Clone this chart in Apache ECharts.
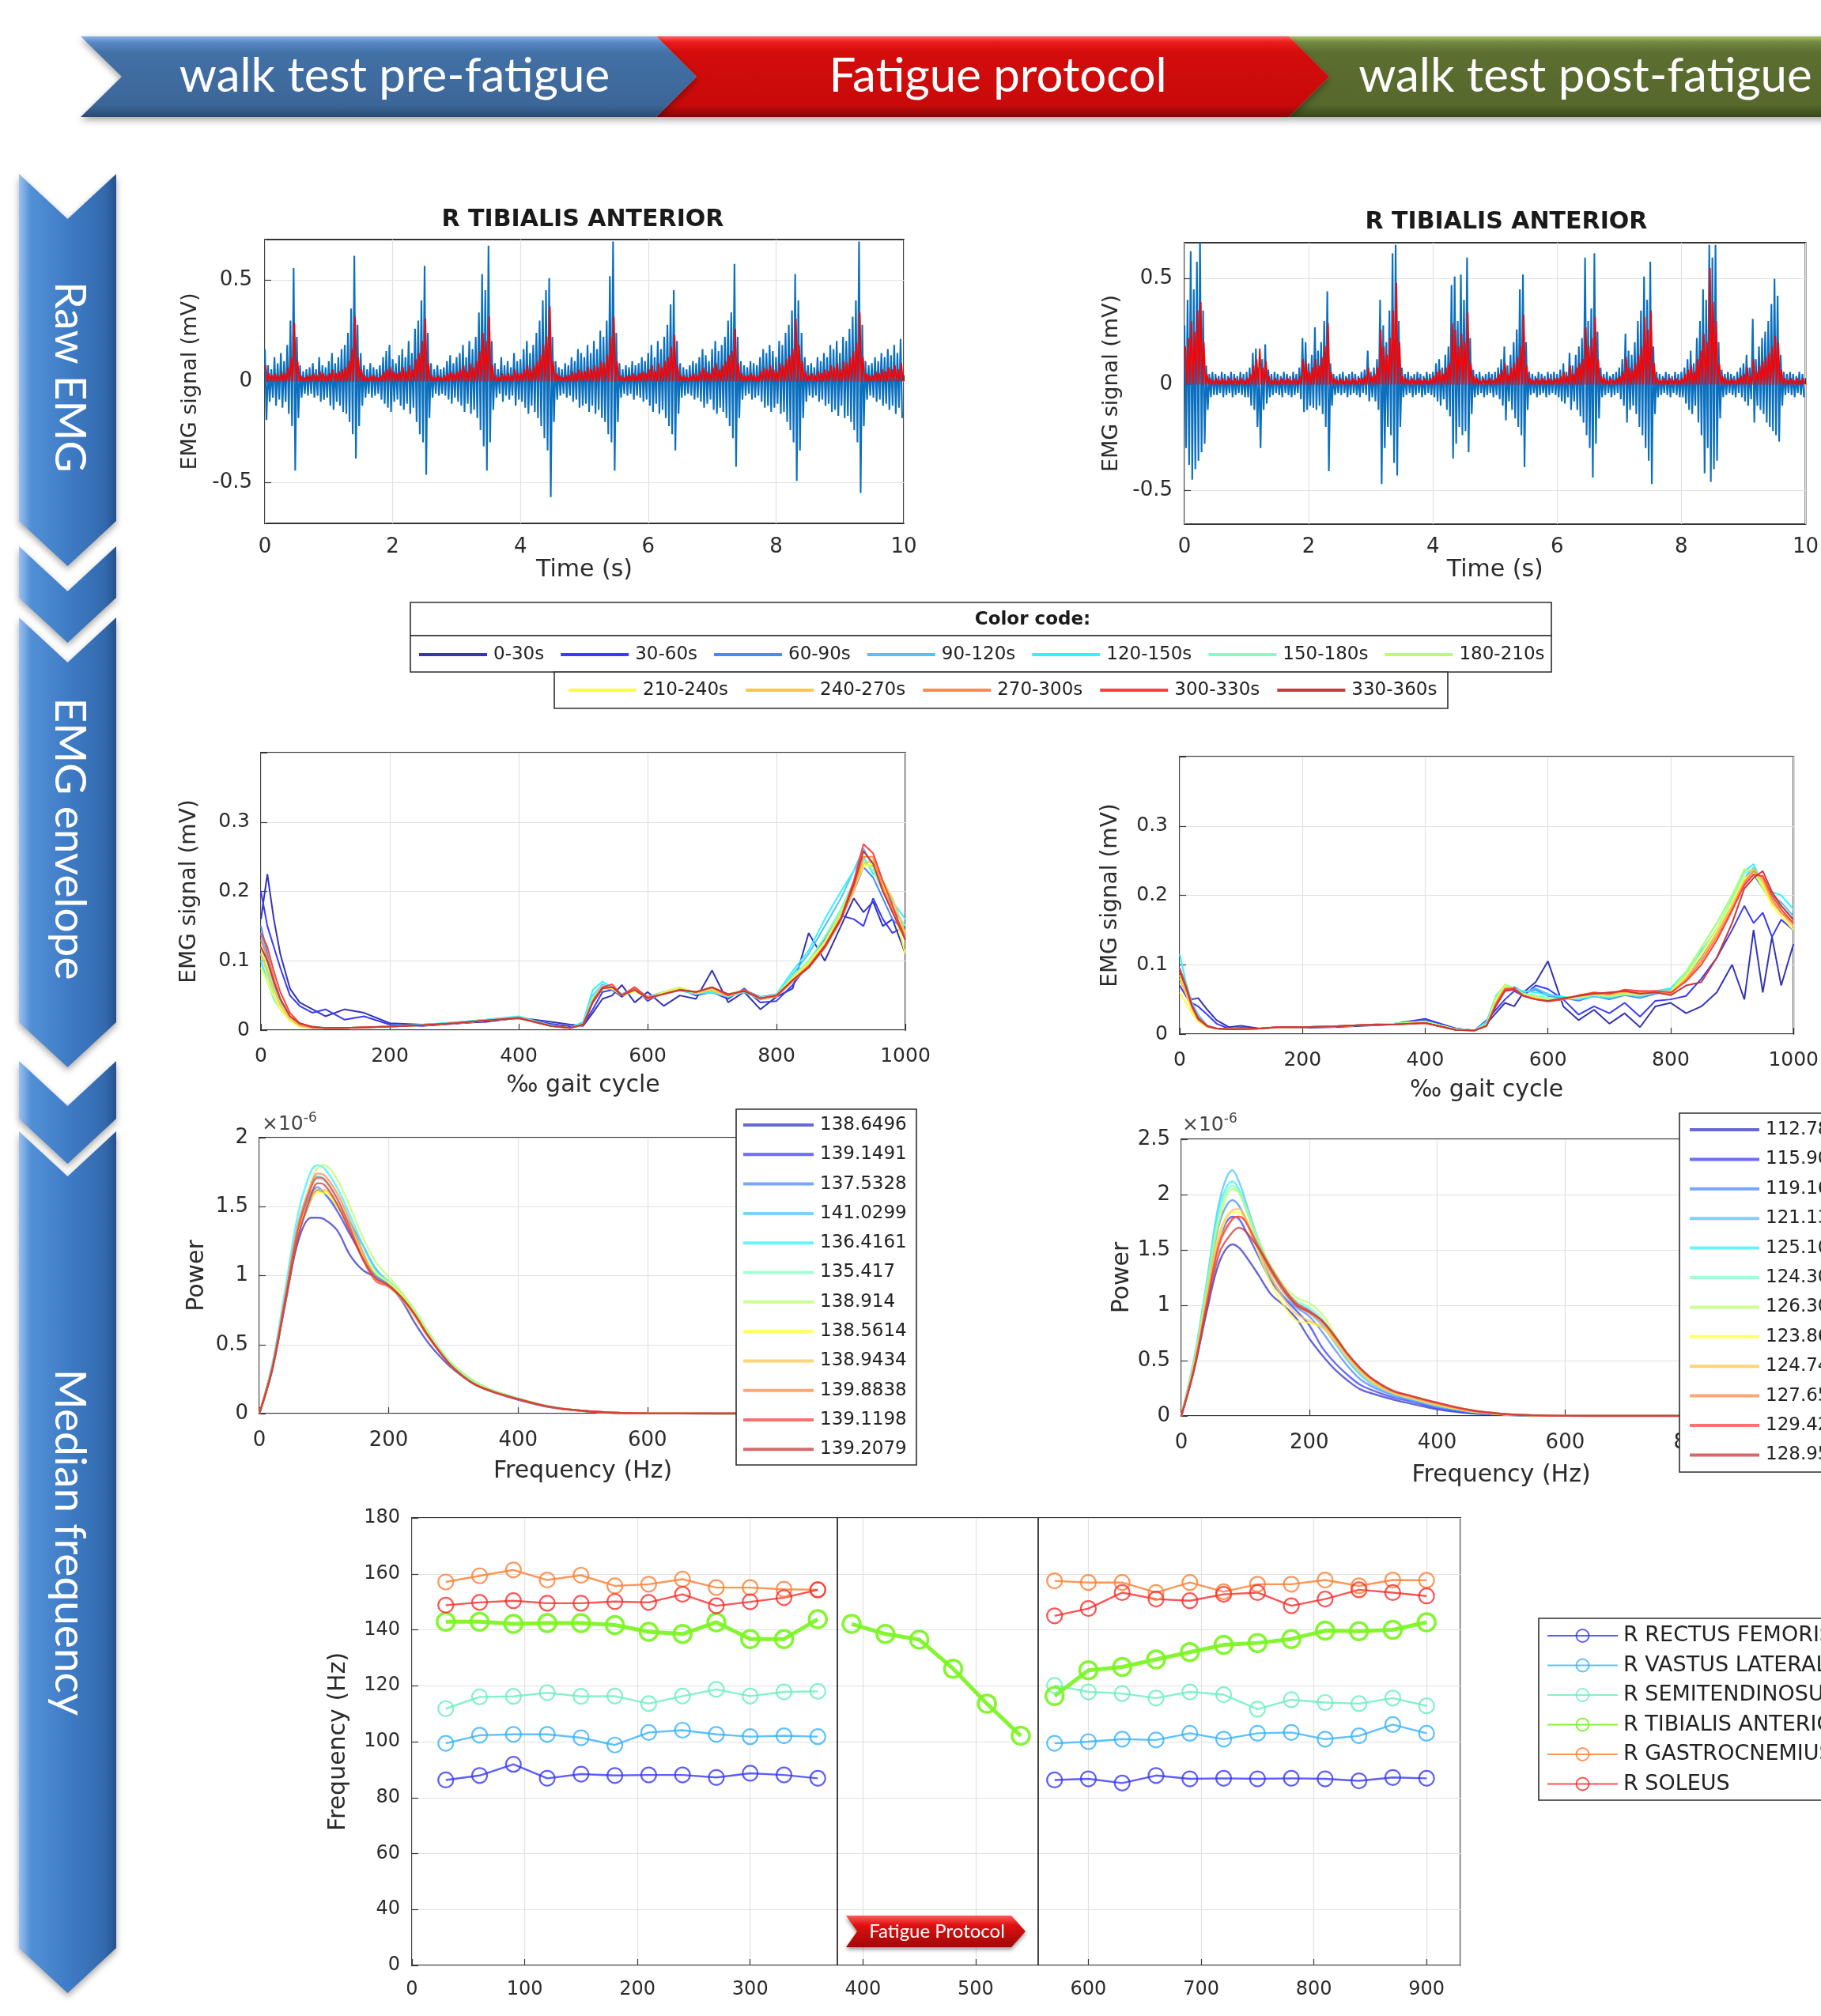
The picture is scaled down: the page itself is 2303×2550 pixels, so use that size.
<!DOCTYPE html>
<html>
<head>
<meta charset="utf-8">
<title>EMG fatigue figure</title>
<script src="https://cdn.jsdelivr.net/npm/echarts@6.0.0/dist/echarts.min.js"></script>
<style>
html,body{margin:0;padding:0;background:#ffffff;}
#chart{width:2303px;height:2550px;}
</style>
</head>
<body>
<div id="chart"></div>
<script>
// ===================== DATA =====================
const phaseLabels = ['walk test pre-fatigue', 'Fatigue protocol', 'walk test post-fatigue'];
const sectionLabels = ['Raw EMG', 'EMG envelope', 'Median frequency'];
const muscleTitle = 'R TIBIALIS ANTERIOR';
const colorCodeTitle = 'Color code:';
const fatigueTag = 'Fatigue Protocol';

// Raw EMG, sampled every rawStep seconds (values in 0.01 mV)
const rawStep = 0.05;
const rawPreUpper = [16,8,6,12,9,14,10,18,30,56, 22,8,5,6,7,9,6,12,8,7, 10,14,9,12,16,18,24,36,62,28, 14,8,6,9,7,6,8,12,15,18,
  11,9,13,16,12,20,14,26,30,40, 57,24,9,6,8,6,7,10,13,9, 12,14,18,12,20,16,22,34,53,45, 67,20,9,6,12,8,10,7,14,10,
  11,16,20,14,18,24,30,40,45,51, 22,10,7,6,9,8,12,10,16,14, 12,18,14,20,16,25,22,30,52,69, 24,9,6,8,7,10,8,9,12,10,
  14,18,12,20,16,22,28,38,45,20, 9,7,6,8,10,9,12,16,13,10, 16,20,15,18,22,30,34,58,22,10, 8,7,10,9,8,12,16,14,18,15,
  12,20,18,24,28,35,53,40,24,12, 8,9,7,12,10,14,12,18,16,20, 14,22,20,26,32,40,69,28,10,8, 9,12,10,14,12,16,13,18,14,21];
const rawPreLower = [-19,-10,-8,-12,-9,-13,-10,-16,-22,-44, -18,-8,-6,-7,-6,-8,-7,-10,-9,-8, -12,-14,-10,-12,-15,-16,-20,-26,-38,-22, -12,-8,-6,-8,-7,-6,-9,-11,-13,-15,
  -10,-9,-12,-14,-11,-16,-13,-20,-26,-30, -46,-18,-8,-6,-7,-6,-7,-9,-11,-8, -10,-12,-15,-11,-16,-14,-18,-24,-32,-44, -30,-14,-8,-6,-10,-7,-9,-7,-12,-9,
  -10,-13,-16,-12,-15,-18,-22,-28,-34,-57, -20,-9,-7,-6,-8,-7,-10,-9,-13,-12, -11,-15,-12,-16,-14,-18,-20,-26,-30,-44, -20,-8,-6,-7,-6,-9,-7,-8,-10,-9,
  -12,-15,-11,-16,-14,-18,-22,-26,-34,-16, -8,-7,-6,-7,-9,-8,-10,-13,-11,-9, -14,-16,-13,-15,-18,-22,-28,-42,-18,-9, -7,-6,-9,-8,-7,-10,-13,-12,-15,-13,
  -11,-16,-15,-20,-24,-30,-49,-34,-18,-10, -7,-8,-7,-10,-9,-12,-11,-15,-14,-17, -12,-18,-17,-20,-24,-30,-55,-22,-9,-7, -8,-10,-9,-12,-11,-14,-12,-16,-13,-18];
const rawPreRect = [8,4,3,4,3,5,4,7,12,29, 10,3,2,3,3,4,3,5,4,3, 4,6,4,5,6,7,10,16,32,12, 6,3,2,3,3,2,3,5,6,7,
  5,4,5,7,5,8,6,11,14,20, 31,9,3,2,3,2,3,4,5,4, 5,6,8,5,9,7,10,15,24,20, 32,8,3,2,4,3,4,3,6,4,
  4,6,8,6,8,10,13,18,22,37, 10,4,3,2,3,3,5,4,6,5, 5,7,6,8,7,10,9,13,22,32, 10,3,2,3,3,4,3,4,5,4,
  6,8,5,9,7,10,12,17,23,8, 3,3,2,3,4,3,5,7,5,4, 7,9,6,8,10,13,15,26,9,4, 3,3,4,3,3,5,7,6,8,6,
  5,9,8,11,13,16,31,18,10,5, 3,4,3,5,4,6,5,8,7,9, 6,10,9,12,15,19,34,12,4,3, 3,5,4,6,5,7,6,8,6,9];

const rawPostUpper = [28,40,63,45,58,70,35,9,5,6, 5,4,6,5,4,6,5,4,6,5, 6,8,15,17,8,12,19,7,5,6, 5,4,6,5,4,6,5,8,22,20,
  10,14,27,16,20,30,44,10,5,4, 5,6,4,5,6,5,4,6,7,16, 6,8,12,40,28,20,35,62,66,30, 8,5,6,4,5,6,5,4,6,5,
  6,10,12,8,14,18,47,51,30,52, 40,60,22,7,5,6,4,5,6,5, 6,8,12,18,9,14,20,26,45,52, 20,6,5,4,6,5,4,6,5,6,
  5,7,10,6,15,9,14,18,22,60, 30,36,62,25,8,5,6,4,5,6, 8,12,24,16,14,20,30,35,51,40, 58,18,6,5,4,6,5,4,6,5,
  6,8,12,16,10,22,30,45,40,66, 60,66,20,7,5,6,5,4,6,8, 10,14,8,31,12,18,22,25,30,38, 50,42,14,6,5,6,5,4,6,5];
const rawPostLower = [-30,-38,-45,-40,-36,-32,-28,-12,-6,-5, -5,-4,-6,-5,-4,-6,-5,-4,-5,-6, -6,-10,-12,-20,-30,-12,-9,-6,-5,-4, -5,-6,-4,-5,-6,-5,-4,-7,-13,-12,
  -10,-11,-12,-10,-14,-20,-41,-10,-5,-4, -5,-4,-6,-5,-4,-5,-6,-4,-5,-8, -6,-8,-12,-47,-30,-20,-24,-37,-43,-20, -6,-5,-4,-6,-5,-4,-6,-5,-4,-5,
  -6,-8,-10,-7,-12,-15,-35,-28,-20,-24, -22,-32,-14,-6,-5,-4,-6,-5,-4,-6, -5,-7,-10,-17,-8,-12,-16,-20,-24,-39, -12,-5,-4,-6,-5,-4,-6,-5,-4,-5,
  -6,-8,-9,-6,-12,-8,-12,-15,-18,-24, -30,-44,-28,-16,-6,-5,-4,-6,-5,-4, -7,-10,-18,-12,-10,-14,-20,-24,-30,-36, -47,-14,-6,-5,-4,-5,-6,-4,-5,-6,
  -6,-9,-12,-14,-10,-18,-24,-42,-30,-46, -40,-36,-16,-6,-5,-4,-5,-6,-4,-6, -8,-10,-7,-18,-10,-12,-14,-18,-20,-22, -24,-27,-10,-5,-4,-5,-6,-4,-5,-6];
const rawPostRect = [18,22,30,25,35,39,20,5,3,2, 3,2,3,2,3,2,3,2,3,2, 3,5,9,12,17,8,11,4,2,3, 2,3,2,3,2,3,2,4,12,10,
  6,8,12,9,13,18,29,6,3,2, 3,2,3,2,3,2,3,3,4,8, 4,5,8,26,18,14,22,35,48,20, 4,3,2,3,2,3,2,3,2,3,
  4,6,7,5,8,10,29,26,18,24, 20,34,10,4,3,2,3,2,3,2, 3,5,7,10,5,8,10,13,18,33, 9,3,2,3,2,3,2,3,2,3,
  3,4,6,4,9,5,8,10,12,27, 18,22,32,12,4,3,2,3,2,3, 4,6,13,8,7,10,14,18,32,26, 35,10,3,2,3,2,3,2,3,2,
  3,5,7,9,6,12,16,24,20,55, 39,30,10,4,3,2,3,2,3,4, 5,8,4,12,6,9,11,13,15,18, 23,20,7,3,2,3,2,3,2,3];

// Time windows (color code)
const windowNames = ['0-30s','30-60s','60-90s','90-120s','120-150s','150-180s','180-210s','210-240s','240-270s','270-300s','300-330s','330-360s'];

// EMG envelope (x in ‰ gait cycle, values in 0.001 mV)
const envX = [0,10,20,30,45,60,80,100,130,160,200,250,300,350,400,450,480,500,515,530,545,560,580,600,625,650,675,700,725,750,775,800,825,850,875,900,920,935,950,965,980,1000];
const envPre = [
  [160,225,160,110,60,40,30,20,30,25,10,8,10,12,18,12,8,6,25,45,50,65,40,55,35,50,45,86,40,55,30,48,60,140,100,150,190,170,185,150,160,110],
  [200,150,120,90,50,35,25,30,15,20,8,6,9,13,17,9,5,8,30,55,58,48,62,42,55,60,50,55,45,60,40,42,65,95,130,165,160,150,190,160,140,150],
  [150,110,75,45,20,8,4,3,3,4,5,7,10,14,18,6,3,10,45,62,58,52,60,48,55,60,52,56,50,58,48,52,75,100,130,170,200,235,220,190,160,140],
  [140,100,65,40,18,8,4,3,3,4,5,7,11,15,19,6,3,9,50,66,60,50,57,47,52,57,52,54,48,56,44,50,80,110,150,190,230,262,235,205,175,150],
  [100,70,45,30,14,6,3,3,3,4,6,8,11,15,20,7,3,12,58,70,62,52,58,46,53,58,53,55,48,55,45,52,85,115,160,200,230,250,225,215,185,160],
  [110,80,50,30,15,6,3,3,3,4,5,7,10,14,18,6,3,9,48,64,60,50,58,47,55,60,52,58,50,56,47,51,78,100,135,175,215,245,230,200,180,150],
  [120,90,60,38,18,7,3,3,3,4,5,7,10,14,18,6,3,8,44,62,60,50,56,46,55,62,54,60,52,58,46,50,76,98,128,170,212,240,235,205,170,140],
  [90,70,48,30,14,5,3,3,3,4,5,7,10,14,17,6,3,8,42,60,60,50,57,46,54,60,55,58,50,57,46,50,74,96,125,165,205,235,240,210,180,110],
  [110,85,58,36,16,6,3,3,3,4,5,7,10,14,18,6,3,8,42,60,62,50,58,45,53,59,54,57,49,57,45,50,72,94,122,160,200,240,245,215,190,140],
  [130,105,75,45,20,8,4,3,3,4,5,7,10,14,18,6,3,8,40,60,62,50,60,45,52,58,55,61,50,57,45,48,70,90,118,158,205,250,250,205,175,135],
  [140,120,85,55,25,10,4,3,3,4,5,7,10,14,18,6,3,8,42,62,66,50,62,47,52,58,55,62,50,58,46,50,72,92,122,162,215,268,255,215,180,130],
  [120,100,70,45,20,10,5,3,3,4,5,7,10,14,17,6,3,8,40,60,62,50,58,46,52,58,55,62,52,56,46,50,72,90,120,160,210,258,240,200,170,130]
];
const envPost = [
  [80,60,50,52,35,20,10,12,8,10,9,10,12,14,20,8,5,15,30,45,40,60,75,105,40,20,35,15,30,10,40,45,30,40,60,100,50,150,60,140,70,130],
  [70,55,45,40,28,15,8,9,8,10,10,11,13,15,22,8,5,20,35,50,62,55,70,65,50,28,40,30,45,25,48,50,55,80,110,150,185,160,175,140,165,150],
  [85,60,40,25,12,8,7,7,8,10,10,11,13,15,19,7,5,14,45,62,68,60,64,55,52,48,55,50,56,52,58,62,80,110,145,185,215,230,210,190,175,160],
  [95,70,45,28,12,8,7,7,8,10,10,11,13,15,18,7,5,16,50,68,64,60,66,58,52,50,54,52,58,54,60,64,85,120,150,185,225,240,220,200,190,170],
  [115,75,45,25,12,8,7,7,8,10,10,11,13,15,18,7,5,18,55,70,66,62,60,56,54,50,56,52,58,55,62,66,90,125,160,200,235,245,215,205,200,180],
  [90,65,40,22,11,8,7,7,8,10,10,11,13,15,18,7,5,14,52,70,64,58,56,52,50,52,56,54,57,56,60,62,88,118,152,195,232,238,215,195,185,165],
  [85,60,38,22,11,8,7,7,8,10,10,11,13,15,18,7,5,14,52,72,66,58,54,50,50,53,57,55,58,56,60,62,90,125,160,200,238,235,210,190,180,160],
  [60,45,30,18,10,8,7,7,8,10,10,11,13,14,16,6,5,12,48,68,64,56,52,48,50,54,58,56,62,60,62,60,84,115,150,190,225,232,215,185,170,150],
  [80,58,36,20,11,8,7,7,8,10,10,11,13,14,16,6,5,12,45,66,64,56,52,48,50,54,58,56,60,58,62,58,80,108,145,185,220,238,220,190,175,155],
  [90,65,40,22,11,8,7,7,8,10,10,11,13,14,16,6,5,12,44,66,66,56,50,48,50,56,58,58,62,60,60,58,78,105,140,180,218,235,225,195,175,160],
  [95,70,42,24,12,8,7,7,8,10,10,11,13,14,16,6,5,12,42,64,66,55,50,47,50,56,60,58,64,62,62,60,76,100,135,178,215,230,228,200,180,160],
  [90,68,40,22,11,8,7,7,8,10,10,11,13,14,16,6,5,12,40,62,64,55,50,48,52,55,58,60,62,58,60,56,70,75,110,160,210,225,235,205,185,165]
];

// Power spectra (x in Hz, values in 1e-6)
const specX = [0,20,40,60,80,90,100,120,140,160,180,200,220,240,260,280,300,330,360,400,450,500,550,600,700,800,1000];
const powPre = [
  [0,.32,.80,1.25,1.42,1.42,1.41,1.33,1.15,1.04,.99,.93,.82,.66,.52,.41,.32,.22,.16,.10,.045,.018,.006,.002,0,0,0],
  [0,.33,.82,1.30,1.55,1.62,1.60,1.47,1.30,1.14,1.00,.94,.85,.72,.57,.44,.33,.22,.16,.105,.048,.02,.006,.002,0,0,0],
  [0,.34,.84,1.34,1.60,1.64,1.60,1.50,1.38,1.22,1.05,.95,.86,.73,.58,.44,.33,.22,.16,.105,.048,.02,.006,.002,0,0,0],
  [0,.35,.86,1.38,1.66,1.72,1.70,1.56,1.36,1.15,1.00,.94,.85,.73,.58,.44,.33,.23,.17,.11,.05,.02,.006,.002,0,0,0],
  [0,.36,.90,1.45,1.76,1.80,1.78,1.64,1.44,1.22,1.04,.96,.87,.75,.60,.46,.35,.24,.17,.11,.05,.02,.006,.002,0,0,0],
  [0,.34,.85,1.36,1.64,1.70,1.69,1.56,1.38,1.17,1.02,.95,.86,.74,.59,.45,.34,.23,.17,.11,.05,.02,.006,.002,0,0,0],
  [0,.33,.84,1.36,1.68,1.78,1.80,1.70,1.50,1.28,1.10,.99,.88,.75,.60,.46,.35,.24,.17,.11,.05,.02,.006,.002,0,0,0],
  [0,.33,.82,1.30,1.55,1.60,1.60,1.50,1.34,1.16,1.02,.95,.86,.73,.58,.44,.33,.22,.16,.105,.048,.02,.006,.002,0,0,0],
  [0,.33,.82,1.31,1.57,1.62,1.62,1.52,1.34,1.14,.98,.92,.83,.70,.56,.44,.33,.22,.16,.105,.048,.02,.006,.002,0,0,0],
  [0,.33,.84,1.36,1.66,1.74,1.73,1.60,1.40,1.17,.98,.93,.84,.72,.57,.44,.33,.22,.16,.105,.048,.02,.006,.002,0,0,0],
  [0,.33,.83,1.34,1.64,1.71,1.70,1.56,1.35,1.12,.96,.92,.84,.72,.57,.44,.33,.22,.16,.105,.048,.02,.006,.002,0,0,0],
  [0,.32,.80,1.28,1.58,1.67,1.66,1.52,1.32,1.12,.98,.93,.84,.72,.57,.44,.33,.22,.16,.105,.048,.02,.006,.002,0,0,0]
];
const powPost = [
  [0,.42,.95,1.40,1.55,1.52,1.45,1.28,1.10,1.00,.88,.70,.55,.42,.32,.24,.20,.15,.11,.06,.025,.01,.003,.001,0,0,0],
  [0,.45,1.05,1.60,1.80,1.78,1.68,1.45,1.22,1.07,.95,.82,.62,.48,.37,.28,.23,.17,.13,.07,.03,.012,.004,.001,0,0,0],
  [0,.48,1.12,1.75,1.95,1.90,1.78,1.50,1.25,1.08,.98,.90,.76,.60,.45,.33,.26,.19,.14,.08,.035,.013,.004,.001,0,0,0],
  [0,.52,1.22,1.95,2.22,2.12,1.95,1.60,1.32,1.12,1.00,.93,.82,.66,.50,.37,.28,.20,.15,.09,.04,.015,.005,.001,0,0,0],
  [0,.50,1.20,1.90,2.12,2.05,1.90,1.58,1.32,1.14,1.02,.96,.86,.70,.53,.39,.30,.21,.16,.10,.045,.016,.005,.001,0,0,0],
  [0,.50,1.18,1.85,2.08,2.02,1.88,1.56,1.30,1.14,1.04,.98,.88,.72,.54,.40,.30,.21,.16,.10,.045,.016,.005,.001,0,0,0],
  [0,.48,1.14,1.78,2.05,2.02,1.90,1.60,1.36,1.18,1.07,1.02,.92,.74,.56,.41,.31,.22,.17,.11,.048,.017,.005,.001,0,0,0],
  [0,.45,1.06,1.62,1.84,1.84,1.76,1.48,1.20,1.00,.86,.84,.80,.68,.53,.40,.30,.21,.16,.10,.045,.016,.005,.001,0,0,0],
  [0,.46,1.08,1.66,1.86,1.87,1.80,1.52,1.26,1.06,.92,.86,.80,.68,.53,.40,.30,.21,.16,.10,.045,.016,.005,.001,0,0,0],
  [0,.44,1.04,1.58,1.78,1.80,1.76,1.52,1.30,1.12,1.00,.93,.84,.70,.55,.42,.32,.22,.17,.11,.05,.018,.005,.001,0,0,0],
  [0,.43,1.02,1.56,1.78,1.80,1.76,1.54,1.34,1.16,1.02,.95,.86,.72,.56,.43,.33,.23,.18,.12,.055,.02,.006,.001,0,0,0],
  [0,.42,.98,1.48,1.66,1.70,1.67,1.52,1.32,1.14,1.00,.94,.86,.72,.56,.43,.33,.23,.18,.12,.055,.02,.006,.001,0,0,0]
];
const medianPreLabels = ['138.6496','139.1491','137.5328','141.0299','136.4161','135.417','138.914','138.5614','138.9434','139.8838','139.1198','139.2079'];
const medianPostLabels = ['112.78','115.90','119.16','121.13','125.10','124.30','126.30','123.86','124.74','127.65','129.42','128.95'];

// Median frequency over time (x in s, values in Hz)
const muscleNames = ['R RECTUS FEMORIS','R VASTUS LATERALIS','R SEMITENDINOSUS','R TIBIALIS ANTERIOR','R GASTROCNEMIUS','R SOLEUS'];
const medPreX = [30,60,90,120,150,180,210,240,270,300,330,360];
const medFatX = [390,420,450,480,510,540];
const medPostX = [570,600,630,660,690,720,750,780,810,840,870,900];
const rectusPre = [86.3,87.9,91.9,86.9,88.4,87.9,88.1,88.1,87.2,88.7,88.1,86.9];
const rectusPost = [86.3,86.7,85.2,87.9,86.7,86.9,86.7,86.9,86.7,86.0,87.2,86.9];
const vastusPre = [99.4,102.3,102.6,102.6,101.4,98.8,103.3,104.1,102.6,101.8,102.1,101.8];
const vastusPost = [99.4,100.0,100.9,100.6,103.0,100.9,103.0,103.3,100.9,102.1,106.1,103.0];
const semiPre = [111.8,116.0,116.2,117.5,116.2,116.3,113.6,116.3,118.7,116.3,117.8,118.0];
const semiPost = [120.1,117.8,117.2,115.6,117.8,116.8,111.6,115.0,114.0,113.6,115.6,112.8];
const tibPre = [142.9,142.9,142.1,142.4,142.4,141.7,139.3,138.5,142.7,136.7,136.7,143.8];
const tibFat = [142.1,138.5,136.5,126.1,113.6,102.1];
const tibPost = [116.3,125.5,126.7,129.4,132.0,134.6,135.3,136.7,139.7,139.5,140.0,142.7];
const gastPre = [157.1,159.3,161.4,157.8,159.5,155.7,156.3,158.1,155.1,155.1,154.5,154.3];
const gastPost = [157.5,156.9,156.9,153.3,156.9,153.6,156.3,156.3,157.8,155.7,157.8,157.7];
const solPre = [148.8,149.8,150.4,149.5,149.5,150.1,149.8,152.7,148.6,150.0,151.5,154.3];
const solPost = [145.0,147.6,153.3,151.0,150.4,152.7,153.3,148.6,151.0,154.3,153.3,152.1];
const phaseBounds = [377, 555];
const medYTickValues = [20,40,60,80,100,120,140,160,180];
const medYTickLabels = ['0','40','60','80','100','120','140','160','180'];
const rawYTicks = [-0.5, 0, 0.5];

// ===================== STYLE =====================
const windowColors = ['#3434b4','#3a3aff','#4a8aff','#52c2ff','#33f2ff','#80ffc6','#baff6a','#ffff3a','#ffc64a','#ff8a4a','#ff4040','#c43a3a'];
const specColors = ['rgba(52,52,200,0.75)','rgba(58,58,255,0.75)','rgba(74,138,255,0.75)','rgba(82,194,255,0.75)','rgba(51,242,255,0.75)','rgba(128,255,198,0.75)',
  'rgba(186,255,106,0.75)','rgba(255,255,58,0.75)','rgba(255,198,74,0.75)','rgba(255,138,74,0.75)','rgba(255,64,64,0.75)','rgba(196,58,58,0.75)'];
const muscleColors = ['rgba(52,52,255,0.8)','rgba(50,178,255,0.8)','rgba(110,240,190,0.85)','rgba(122,245,32,0.92)','rgba(255,130,56,0.85)','rgba(255,40,40,0.8)'];
const FONT = 'DejaVu Sans';
const INK = '#2b2b2b';

// ===================== BUILD =====================
function zigzag(up, lo) {
  const out = [];
  for (let i = 0; i < up.length; i++) {
    out.push([i * rawStep, up[i] * 0.01]);
    out.push([i * rawStep + rawStep / 2, lo[i] * 0.01]);
  }
  return out;
}
// rectified signal: oscillates between its envelope sample and zero
function rectified(vals) {
  const out = [];
  vals.forEach((v, i) => {
    out.push([i * rawStep + rawStep / 4, v * 0.01]);
    out.push([i * rawStep + rawStep * 3 / 4, 0]);
  });
  return out;
}
function pairs(xs, ys, k) { return xs.map((x, i) => [x, ys[i] * (k || 1)]); }
function gapJoin() {
  const out = [];
  for (let a = 0; a < arguments.length; a++) {
    if (a > 0) out.push([ (out[out.length - 1][0] + arguments[a][0][0]) / 2, '-' ]);
    arguments[a].forEach(p => out.push(p));
  }
  return out;
}

const plainFmt = v => String(Math.round(v * 1000) / 1000);
function valueAxis(o) {
  const ax = {
    type: 'value', gridIndex: o.grid, min: o.min, max: o.max,
    name: o.name || '', nameLocation: 'middle', nameGap: o.nameGap || 0,
    nameTextStyle: {fontFamily: FONT, fontSize: o.nameSize || 30, color: INK},
    axisLine: {show: false},
    axisTick: {show: true, inside: true, length: 8, lineStyle: {color: '#3a3a3a', width: 1.2}},
    axisLabel: {fontFamily: FONT, fontSize: o.labelSize || 26, color: INK, margin: o.margin || 14, formatter: o.formatter || plainFmt},
    splitLine: {show: true, lineStyle: {color: '#e1e1e1', width: 1.2}}
  };
  if (o.interval != null) ax.interval = o.interval;
  if (o.custom) { ax.axisLabel.customValues = o.custom; ax.axisTick.customValues = o.custom; }
  if (o.hideMax) ax.axisLabel.showMaxLabel = false;
  return ax;
}

const grids = [
  {left: 335, top: 303, width: 808, height: 359},
  {left: 1498, top: 307, width: 814, height: 356},
  {left: 330, top: 952, width: 815, height: 351},
  {left: 1492, top: 957, width: 815, height: 351},
  {left: 328, top: 1439, width: 818, height: 349},
  {left: 1494, top: 1441, width: 817, height: 350},
  {left: 521, top: 1920, width: 1326, height: 566}
].map(g => Object.assign({show: true, borderColor: '#333', borderWidth: 2, backgroundColor: 'transparent'}, g));

const envFmt = v => (v >= 0.39 ? '' : String(Math.round(v * 10) / 10));
const xAxes = [
  valueAxis({grid: 0, min: 0, max: 10, interval: 2, name: 'Time (s)', nameGap: 41, margin: 17}),
  valueAxis({grid: 1, min: 0, max: 10, interval: 2, name: 'Time (s)', nameGap: 39, margin: 16}),
  valueAxis({grid: 2, min: 0, max: 1000, interval: 200, name: '‰ gait cycle', nameGap: 55, margin: 21, labelSize: 25}),
  valueAxis({grid: 3, min: 0, max: 1000, interval: 200, name: '‰ gait cycle', nameGap: 56, margin: 21, labelSize: 25}),
  valueAxis({grid: 4, min: 0, max: 1000, interval: 200, hideMax: true, name: 'Frequency (Hz)', nameGap: 58, margin: 21}),
  valueAxis({grid: 5, min: 0, max: 1000, interval: 200, hideMax: true, name: 'Frequency (Hz)', nameGap: 60, margin: 21}),
  valueAxis({grid: 6, min: 0, max: 930, interval: 100, hideMax: true, margin: 19, labelSize: 24})
];
const yAxes = [
  valueAxis({grid: 0, min: -0.7, max: 0.7, custom: rawYTicks, name: 'EMG signal (mV)', nameGap: 81, nameSize: 27, margin: 16}),
  valueAxis({grid: 1, min: -0.66, max: 0.67, custom: rawYTicks, name: 'EMG signal (mV)', nameGap: 79, nameSize: 27, margin: 15}),
  valueAxis({grid: 2, min: 0, max: 0.4, interval: 0.1, formatter: envFmt, name: 'EMG signal (mV)', nameGap: 76, nameSize: 28, margin: 14, labelSize: 25}),
  valueAxis({grid: 3, min: 0, max: 0.4, interval: 0.1, formatter: envFmt, name: 'EMG signal (mV)', nameGap: 73, nameSize: 28, margin: 15, labelSize: 25}),
  valueAxis({grid: 4, min: 0, max: 2, interval: 0.5, name: 'Power', nameGap: 64, margin: 14}),
  valueAxis({grid: 5, min: 0, max: 2.5, interval: 0.5, name: 'Power', nameGap: 60, margin: 14}),
  valueAxis({grid: 6, min: 20, max: 180, interval: 20, name: 'Frequency (Hz)', nameGap: 78, margin: 15, labelSize: 24,
    formatter: v => { const k = medYTickValues.indexOf(v); return k >= 0 ? medYTickLabels[k] : String(v); }})
];

const series = [];
// Raw EMG
[[rawPreUpper, rawPreLower, rawPreRect, 0], [rawPostUpper, rawPostLower, rawPostRect, 1]].forEach(([u, l, r, gi]) => {
  series.push({type: 'line', name: 'raw' + gi, xAxisIndex: gi, yAxisIndex: gi, data: zigzag(u, l), symbol: 'none',
    lineStyle: {color: '#0a6fbe', width: 2.1}, itemStyle: {color: '#0a6fbe'}, silent: true, z: 2});
  series.push({type: 'line', name: 'rect' + gi, xAxisIndex: gi, yAxisIndex: gi, data: rectified(r), symbol: 'none',
    lineStyle: {color: '#ff0000', width: 1.8}, itemStyle: {color: '#ff0000'}, silent: true, z: 3});
});
// Envelopes
[[envPre, 2], [envPost, 3]].forEach(([curves, gi]) => {
  curves.forEach((c, k) => {
    series.push({type: 'line', name: windowNames[k], xAxisIndex: gi, yAxisIndex: gi, data: pairs(envX, c, 0.001),
      symbol: 'none', lineStyle: {color: windowColors[k], width: 2}, itemStyle: {color: windowColors[k]}, silent: true, z: 2});
  });
});
// Spectra
[[powPre, medianPreLabels, 4], [powPost, medianPostLabels, 5]].forEach(([curves, names, gi]) => {
  curves.forEach((c, k) => {
    series.push({type: 'line', name: names[k], xAxisIndex: gi, yAxisIndex: gi, data: pairs(specX, c), smooth: 0.35,
      symbol: 'none', lineStyle: {color: specColors[k], width: 2.4}, itemStyle: {color: specColors[k]}, silent: true, z: 2});
  });
});
// Median frequency
const medSets = [
  [rectusPre, rectusPost], [vastusPre, vastusPost], [semiPre, semiPost], [tibPre, tibFat, tibPost], [gastPre, gastPost], [solPre, solPost]
];
medSets.forEach((set, k) => {
  const isTib = set.length === 3;
  const parts = isTib ? [pairs(medPreX, set[0]), pairs(medFatX, set[1]), pairs(medPostX, set[2])]
                      : [pairs(medPreX, set[0]), pairs(medPostX, set[1])];
  const s = {type: 'line', name: muscleNames[k], xAxisIndex: 6, yAxisIndex: 6, data: gapJoin.apply(null, parts),
    symbol: 'circle', symbolSize: isTib ? 22 : 19, connectNulls: false,
    lineStyle: {color: muscleColors[k], width: isTib ? 5 : 2.4},
    itemStyle: {color: 'rgba(255,255,255,0)', borderColor: muscleColors[k], borderWidth: isTib ? 3.5 : 2.2},
    silent: true, z: 3};
  if (isTib) {
    s.markLine = {silent: true, symbol: 'none', label: {show: false}, animation: false,
      lineStyle: {color: '#111', width: 1.6, type: 'solid'}, data: phaseBounds.map(v => ({xAxis: v}))};
  }
  series.push(s);
});

// ---------- graphics ----------
function lin(stops, horizontal) {
  return new echarts.graphic.LinearGradient(0, 0, horizontal ? 1 : 0, horizontal ? 0 : 1,
    stops.map(s => ({offset: s[0], color: s[1]})));
}
const gBlue = lin([[0,'#8db3e8'],[0.07,'#5b8ac8'],[0.2,'#4271a6'],[0.85,'#3c6698'],[1,'#2a4a72']]);
const gRed = lin([[0,'#ff6060'],[0.07,'#ec1c1c'],[0.2,'#d30c0c'],[0.85,'#c90a0a'],[1,'#850505']]);
const gGreen = lin([[0,'#a8c070'],[0.07,'#748a44'],[0.2,'#5c6e30'],[0.85,'#56682c'],[1,'#38461a']]);
const gSide = () => lin([[0,'#9cc0f0'],[0.12,'#5290d6'],[0.5,'#3f7cc6'],[0.88,'#336aae'],[1,'#24528c']], true);
const gTag = lin([[0,'#ff5a5a'],[0.3,'#e01010'],[1,'#a00808']]);
const shadow = {shadowBlur: 8, shadowColor: 'rgba(0,0,0,0.35)', shadowOffsetY: 4};

function txt(text, x, y, size, o) {
  o = o || {};
  return {type: 'text', x: x, y: y, rotation: o.rotation || 0, z: o.z || 30,
    style: {text: text, fontFamily: o.family || FONT, fontSize: size, fontWeight: o.weight || 'normal',
      fill: o.color || INK, align: o.align || 'center', textAlign: o.align || 'center',
      verticalAlign: 'middle', textVerticalAlign: 'middle', rich: o.rich}};
}
function box(x, y, w, h, z) {
  return {type: 'rect', shape: {x: x, y: y, width: w, height: h}, z: z || 10,
    style: {fill: '#ffffff', stroke: '#2e2e2e', lineWidth: 1.6}};
}
function poly(points, fill, z) {
  return {type: 'polygon', shape: {points: points}, z: z || 1, style: Object.assign({fill: fill}, shadow)};
}

const sideX0 = 24, sideX1 = 147, sideXm = 85.5, dep = 57;
function chevron(yTop, yBot) {
  return poly([[sideX0, yTop], [sideXm, yTop + dep], [sideX1, yTop], [sideX1, yBot - dep], [sideXm, yBot], [sideX0, yBot - dep]], gSide(), 1);
}

const graphics = [
  // top banner
  poly([[1630,46],[2330,46],[2330,148],[1630,148],[1681,97]], gGreen, 1),
  poly([[830,46],[1630,46],[1681,97],[1630,148],[830,148],[881,97]], gRed, 2),
  poly([[102,46],[830,46],[881,97],[830,148],[102,148],[154,97]], gBlue, 3),
  txt(phaseLabels[0], 499, 97, 60, {family: 'Lato', color: '#ffffff', z: 5}),
  txt(phaseLabels[1], 1262, 97, 60, {family: 'Lato', color: '#ffffff', z: 5}),
  txt(phaseLabels[2], 2005, 97, 60, {family: 'Lato', color: '#ffffff', z: 5}),
  // sidebar
  chevron(1431, 2521), chevron(1342, 1472), chevron(781, 1350), chevron(691, 813), chevron(220, 716),
  txt(sectionLabels[0], 88, 477, 55, {family: 'Lato', color: '#ffffff', rotation: -Math.PI / 2, z: 5}),
  txt(sectionLabels[1], 88, 1061, 55, {family: 'Lato', color: '#ffffff', rotation: -Math.PI / 2, z: 5}),
  txt(sectionLabels[2], 88, 1951, 55, {family: 'Lato', color: '#ffffff', rotation: -Math.PI / 2, z: 5}),
  // panel titles
  txt(muscleTitle, 737, 278, 30, {weight: 'bold', color: '#1a1a1a'}),
  txt(muscleTitle, 1905, 281, 30, {weight: 'bold', color: '#1a1a1a'}),
  // color code boxes
  box(519, 762, 1443, 42), box(519, 804, 1443, 46), box(701, 850, 1130, 46),
  txt(colorCodeTitle, 1306, 784, 23, {weight: 'bold', color: '#1a1a1a'}),
  // spectrum legend boxes
  box(931, 1403, 228, 450), box(2124, 1408, 220, 454),
  // x10^-6 multipliers
  txt('{a|×10}{b|-6}', 331, 1422, 25, {align: 'left', rich: {a: {fontFamily: FONT, fontSize: 25, fill: '#444'}, b: {fontFamily: FONT, fontSize: 17, fill: '#444', padding: [0, 0, 14, 0]}}}),
  txt('{a|×10}{b|-6}', 1495, 1423, 25, {align: 'left', rich: {a: {fontFamily: FONT, fontSize: 25, fill: '#444'}, b: {fontFamily: FONT, fontSize: 17, fill: '#444', padding: [0, 0, 14, 0]}}}),
  // median legend box
  box(1946, 2047, 400, 230),
  // fatigue protocol tag
  {type: 'polygon', z: 12, shape: {points: [[1070,2423],[1279,2423],[1297,2443],[1279,2463],[1070,2463],[1084,2443]]},
    style: Object.assign({fill: gTag}, {shadowBlur: 5, shadowColor: 'rgba(0,0,0,0.4)', shadowOffsetY: 3})},
  txt(fatigueTag, 1185, 2443, 24, {family: 'Lato', color: '#ffffff', z: 14})
];

const legendText = {fontFamily: FONT, fontSize: 23, color: '#222', lineHeight: 26, padding: [0, 0, 0, 3]};
const legends = [
  {data: windowNames.slice(0, 7), left: 530, top: 815, orient: 'horizontal', icon: 'rect', itemWidth: 86, itemHeight: 4, itemGap: 21,
    textStyle: legendText, padding: 0, selectedMode: false, z: 40},
  {data: windowNames.slice(7), left: 719, top: 860, orient: 'horizontal', icon: 'rect', itemWidth: 86, itemHeight: 4, itemGap: 22,
    textStyle: legendText, padding: 0, selectedMode: false, z: 40},
  {data: medianPreLabels, left: 940, top: 1410, orient: 'vertical', icon: 'rect', itemWidth: 89, itemHeight: 4, itemGap: 11.3,
    textStyle: legendText, padding: 0, selectedMode: false, z: 40},
  {data: medianPostLabels, left: 2137, top: 1416, orient: 'vertical', icon: 'rect', itemWidth: 88, itemHeight: 4, itemGap: 11.4,
    textStyle: legendText, padding: 0, selectedMode: false, z: 40},
  {data: muscleNames, left: 1956, top: 2055, orient: 'vertical', itemWidth: 89, itemHeight: 20, itemGap: 9.5,
    textStyle: {fontFamily: FONT, fontSize: 27, color: '#222', lineHeight: 28, padding: [0, 0, 0, 2]}, padding: 0, selectedMode: false, z: 40}
];

const chart = echarts.init(document.getElementById('chart'), null, {renderer: 'canvas', width: 2303, height: 2550});
chart.setOption({
  animation: false,
  backgroundColor: '#ffffff',
  textStyle: {fontFamily: FONT},
  grid: grids,
  xAxis: xAxes,
  yAxis: yAxes,
  legend: legends,
  series: series,
  graphic: {elements: graphics}
});
</script>
</body>
</html>
